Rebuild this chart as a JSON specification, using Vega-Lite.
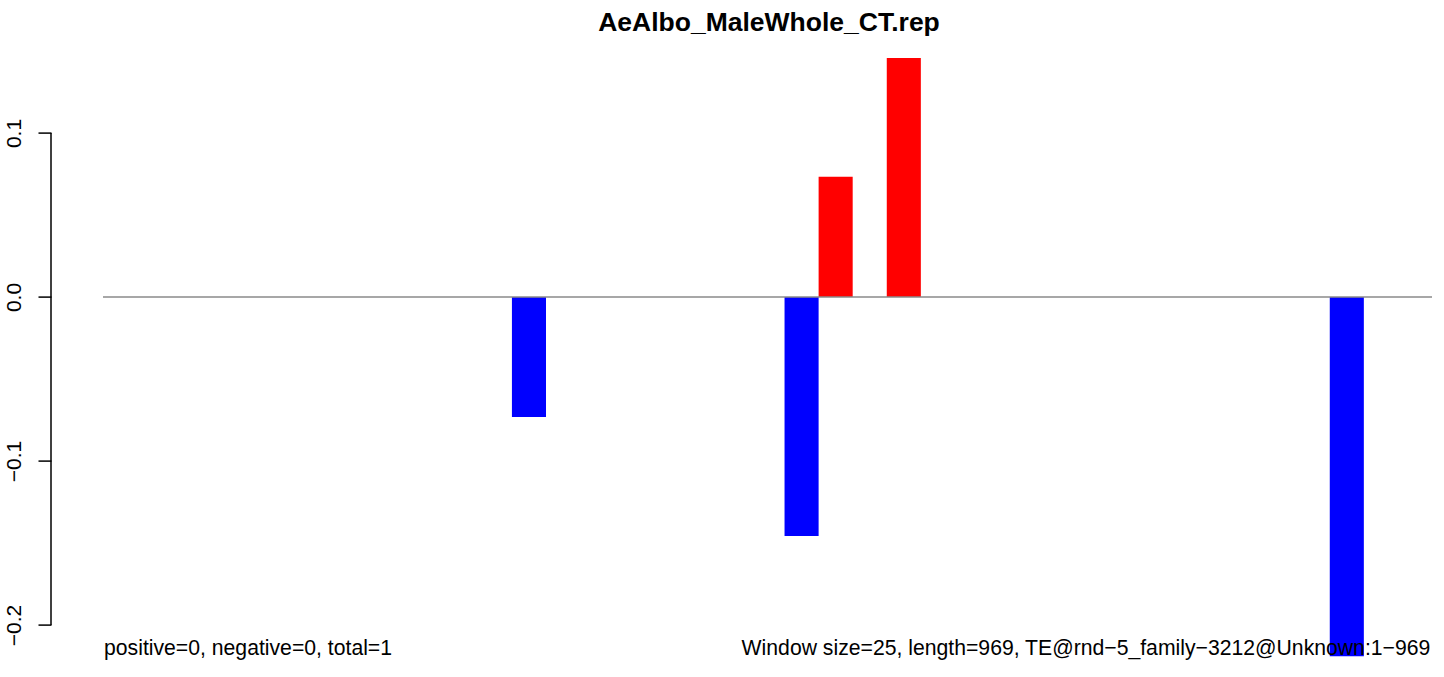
{
  "$schema": "https://vega.github.io/schema/vega-lite/v6.json",
  "width": 1381,
  "height": 623.2,
  "autosize": {"type": "none"},
  "padding": {"left": 51, "top": 34.6, "right": 12, "bottom": 19.2},
  "background": "white",
  "config": {"view": {"stroke": null}, "font": "Liberation Sans"},
  "title": {
    "text": "AeAlbo_MaleWhole_CT.rep",
    "font": "Liberation Sans",
    "fontSize": 26.5,
    "fontWeight": "bold",
    "color": "black",
    "frame": "group",
    "anchor": "middle",
    "dx": 27.5,
    "offset": -23,
    "baseline": "alphabetic"
  },
  "datasets": {
    "windows": [
      {"start": 0, "end": 1, "value": 0}, {"start": 1, "end": 2, "value": 0},
      {"start": 2, "end": 3, "value": 0}, {"start": 3, "end": 4, "value": 0},
      {"start": 4, "end": 5, "value": 0}, {"start": 5, "end": 6, "value": 0},
      {"start": 6, "end": 7, "value": 0}, {"start": 7, "end": 8, "value": 0},
      {"start": 8, "end": 9, "value": 0}, {"start": 9, "end": 10, "value": 0},
      {"start": 10, "end": 11, "value": 0}, {"start": 11, "end": 12, "value": 0},
      {"start": 12, "end": 13, "value": -0.0731}, {"start": 13, "end": 14, "value": 0},
      {"start": 14, "end": 15, "value": 0}, {"start": 15, "end": 16, "value": 0},
      {"start": 16, "end": 17, "value": 0}, {"start": 17, "end": 18, "value": 0},
      {"start": 18, "end": 19, "value": 0}, {"start": 19, "end": 20, "value": 0},
      {"start": 20, "end": 21, "value": -0.1457}, {"start": 21, "end": 22, "value": 0.0733},
      {"start": 22, "end": 23, "value": 0}, {"start": 23, "end": 24, "value": 0.1457},
      {"start": 24, "end": 25, "value": 0}, {"start": 25, "end": 26, "value": 0},
      {"start": 26, "end": 27, "value": 0}, {"start": 27, "end": 28, "value": 0},
      {"start": 28, "end": 29, "value": 0}, {"start": 29, "end": 30, "value": 0},
      {"start": 30, "end": 31, "value": 0}, {"start": 31, "end": 32, "value": 0},
      {"start": 32, "end": 33, "value": 0}, {"start": 33, "end": 34, "value": 0},
      {"start": 34, "end": 35, "value": 0}, {"start": 35, "end": 36, "value": 0},
      {"start": 36, "end": 37, "value": -0.219}, {"start": 37, "end": 38, "value": 0},
      {"start": 38, "end": 39, "value": 0}
    ],
    "one": [{}]
  },
  "layer": [
    {
      "data": {"name": "windows"},
      "mark": {"type": "rect"},
      "encoding": {
        "x": {"field": "start", "type": "quantitative", "scale": {"domain": [-1.526, 39], "nice": false, "zero": false}, "axis": null},
        "x2": {"field": "end"},
        "y": {
          "field": "value", "type": "quantitative",
          "scale": {"domain": [-0.22, 0.16], "nice": false, "zero": false},
          "axis": {
            "values": [0.1, 0, -0.1, -0.2],
            "format": ".1f",
            "domain": false,
            "grid": false,
            "ticks": true,
            "tickSize": 13,
            "tickColor": "black",
            "tickWidth": 1.5,
            "labelAngle": 270,
            "labelAlign": "center",
            "labelBaseline": "alphabetic",
            "labelPadding": 18,
            "labelFont": "Liberation Sans",
            "labelFontSize": 21,
            "labelColor": "black",
            "title": null
          }
        },
        "y2": {"datum": 0},
        "color": {"condition": {"test": "datum.value < 0", "value": "#0000ff"}, "value": "#ff0000"}
      }
    },
    {
      "data": {"name": "one"},
      "mark": {"type": "rule", "color": "#8a8a8a", "strokeWidth": 1.5},
      "encoding": {
        "x": {"datum": 0, "type": "quantitative"},
        "x2": {"datum": 39},
        "y": {"datum": 0, "type": "quantitative"}
      }
    },
    {
      "data": {"name": "one"},
      "mark": {"type": "rule", "color": "black", "strokeWidth": 1.5},
      "encoding": {
        "x": {"datum": -1.526, "type": "quantitative"},
        "y": {"datum": 0.1, "type": "quantitative"},
        "y2": {"datum": -0.2}
      }
    },
    {
      "data": {"name": "one"},
      "mark": {"type": "text", "text": "positive=0, negative=0, total=1", "align": "left", "baseline": "alphabetic", "font": "Liberation Sans", "fontSize": 21.2, "color": "black"},
      "encoding": {
        "x": {"datum": 0.03, "type": "quantitative"},
        "y": {"datum": -0.2183, "type": "quantitative"}
      }
    },
    {
      "data": {"name": "one"},
      "mark": {"type": "text", "text": "Window size=25, length=969, TE@rnd\u22125_family\u22123212@Unknown:1\u2212969", "align": "right", "baseline": "alphabetic", "font": "Liberation Sans", "fontSize": 21.2, "color": "black"},
      "encoding": {
        "x": {"datum": 38.95, "type": "quantitative"},
        "y": {"datum": -0.2183, "type": "quantitative"}
      }
    }
  ]
}
